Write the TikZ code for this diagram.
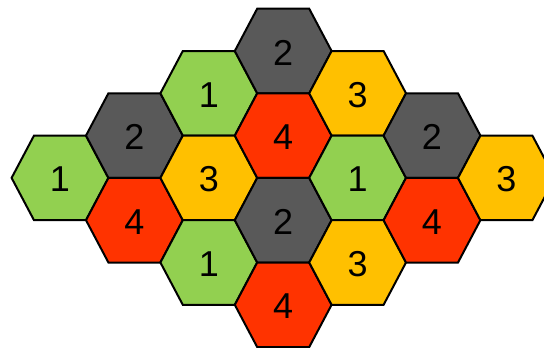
\documentclass[tikz,border=0pt]{standalone}
\usepackage{fontspec}
\setmainfont{Liberation Sans}
\definecolor{hgreen}{HTML}{92D050}
\definecolor{hdark}{HTML}{595959}
\definecolor{hred}{HTML}{FF3300}
\definecolor{hyellow}{HTML}{FFC000}
\tikzset{
  hexshape/.style={draw=black, line width=2pt},
  hexlabel/.style={font=\fontsize{36}{42}\selectfont, text=black, inner sep=0pt}
}
\newcommand\hexcell[5]{%
  \begin{scope}[shift={({60+74.4*#1},{51+42.3*#2})}]
    \filldraw[hexshape, fill=#3] (-48.4,0) -- (-26,-42.3) -- (26,-42.3) -- (48.4,0) -- (26,42.3) -- (-26,42.3) -- cycle;
    \node[hexlabel] (#5) at (0,1.5) {#4};
  \end{scope}}
\begin{document}
\begin{tikzpicture}[x=1pt,y=-1pt]
\useasboundingbox (0,0) rectangle (544,348);
\clip (0,0) rectangle (544,348);
\hexcell{0}{3}{hgreen}{1}{a}
\hexcell{1}{2}{hdark}{2}{b}
\hexcell{1}{4}{hred}{4}{c}
\hexcell{2}{1}{hgreen}{1}{d}
\hexcell{2}{3}{hyellow}{3}{e}
\hexcell{2}{5}{hgreen}{1}{f}
\hexcell{3}{0}{hdark}{2}{g}
\hexcell{3}{2}{hred}{4}{h}
\hexcell{3}{4}{hdark}{2}{i}
\hexcell{3}{6}{hred}{4}{j}
\hexcell{4}{1}{hyellow}{3}{k}
\hexcell{4}{3}{hgreen}{1}{l}
\hexcell{4}{5}{hyellow}{3}{m}
\hexcell{5}{2}{hdark}{2}{n}
\hexcell{5}{4}{hred}{4}{o}
\hexcell{6}{3}{hyellow}{3}{p}
\end{tikzpicture}
\end{document}
